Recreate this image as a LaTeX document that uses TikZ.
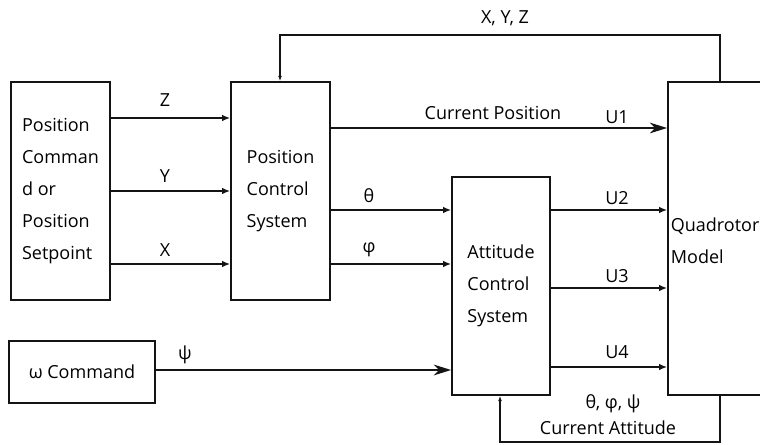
\documentclass[tikz,border=0pt]{standalone}
\usepackage{fontspec}
\setmainfont{Open Sans}
\usepackage{tikz}
\usetikzlibrary{arrows.meta}
\definecolor{primary}{RGB}{20, 20, 20}

\begin{document}
\begin{tikzpicture}[x=0.75pt,y=-0.75pt,
  blk/.style={draw=primary,line width=1.3pt,inner sep=0pt,align=left,font={\fontsize{13.5}{24}\selectfont}},
  lbl/.style={font={\fontsize{13.5}{15}\selectfont},text=black},
  arr/.style={primary,line width=1.3pt,-{Latex[length=6pt,width=5pt]}},
  big/.style={primary,line width=1.8pt,-{Stealth[length=13pt,width=8pt,inset=4pt]}},
  fb/.style={primary,line width=1.3pt,-{Latex[length=4pt,width=3pt]}}]
\useasboundingbox (0,0) rectangle (760,445);
\clip (0,0) rectangle (760,445);
% blocks
\node[blk,minimum width=74.25pt,minimum height=163.5pt] (cmd) at (60.5,191) {Position\\Comman\\d or\\Position\\Setpoint};
\node[blk,minimum width=74.25pt,minimum height=163.5pt] (pcs) at (280.5,191) {Position\\Control\\System};
\node[blk,minimum width=73.5pt,minimum height=163.5pt] (acs) at (501,286) {Attitude\\Control\\System};
\node[blk,minimum width=97.5pt,minimum height=234.75pt] (quad) at (733,238.5) {};
\node[blk,draw=none,anchor=west] (quadtxt) at (670,241) {Quadrotor\\Model};
\node[blk,minimum width=109.5pt,minimum height=46.5pt,font={\fontsize{13.5}{15}\selectfont}] (omega) at (82,372) {ω Command};
% setpoints
\draw[arr] (cmd.east |- 0,118) -- (pcs.west |- 0,118);
\draw[arr,line width=1.8pt] (cmd.east |- 0,191) -- (pcs.west |- 0,191);
\draw[arr] (cmd.east |- 0,264) -- (pcs.west |- 0,264);
\node[lbl] (zlbl) at (165,100) {Z};
\node[lbl] (ylbl) at (165,176) {Y};
\node[lbl] (xlbl) at (165,250) {X};
% position loop
\draw[fb] (quad.north -| 720,0) -- (720,35) -- (280,35) -- (pcs.north -| 280,0);
\node[lbl] (xyz) at (505,18) {X, Y, Z};
\draw[big] (pcs.east |- 0,128) -- (quad.west |- 0,128);
\node[lbl] (curpos) at (493,113) {Current Position};
\node[lbl] (uone) at (617,117) {U1};
% attitude references
\draw[arr] (pcs.east |- 0,210) -- (acs.west |- 0,210);
\draw[arr] (pcs.east |- 0,264) -- (acs.west |- 0,264);
\node[lbl] (theta) at (369,196) {θ};
\node[lbl] (phi) at (369,250) {φ};
\draw[big] (omega.east |- 0,370) -- (acs.west |- 0,370);
\node[lbl] (psi) at (185,355) {ψ};
% motor inputs
\draw[arr] (acs.east |- 0,210) -- (quad.west |- 0,210);
\draw[arr] (acs.east |- 0,288) -- (quad.west |- 0,288);
\draw[arr] (acs.east |- 0,367) -- (quad.west |- 0,367);
\node[lbl] (utwo) at (617,198) {U2};
\node[lbl] (uthree) at (617,276) {U3};
\node[lbl] (ufour) at (617,352) {U4};
% attitude loop
\draw[fb] (quad.south -| 720,0) -- (720,442) -- (500,442) -- (acs.south -| 500,0);
\node[lbl] (angles) at (613,404) {θ, φ, ψ};
\node[lbl] (curatt) at (608,428) {Current Attitude};
\end{tikzpicture}
\end{document}
